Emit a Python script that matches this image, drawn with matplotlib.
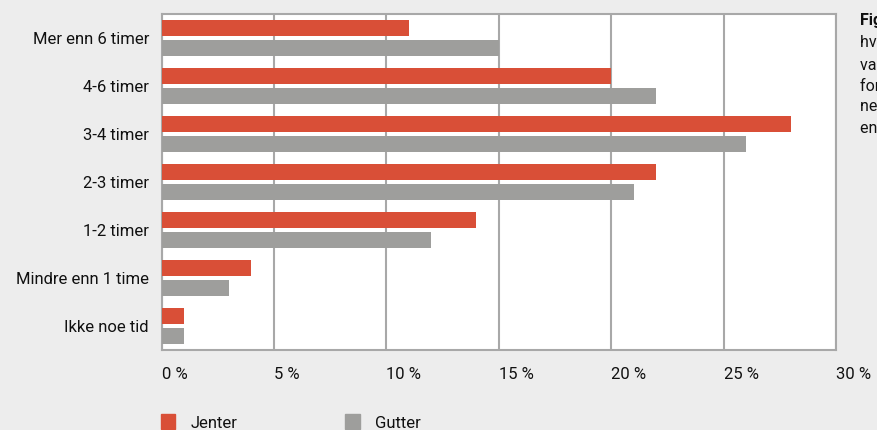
import matplotlib
import matplotlib.pyplot as plt
import numpy as np
from matplotlib.patches import Patch

matplotlib.use('Agg')

# Share of girls / boys per daily screen-time band (%)
categories = ['Mer enn 6 timer', '4-6 timer', '3-4 timer', '2-3 timer',
              '1-2 timer', 'Mindre enn 1 time', 'Ikke noe tid']
jenter = [11, 20, 28, 22, 14, 4, 1]
gutter = [15, 22, 26, 21, 12, 3, 1]
x_ticks = [0, 5, 10, 15, 20, 25, 30]
caption = ['Figur 4:', 'hvor mange timer', 'var du på nett', 'foran skjermen',
           'ne dag', 'en vanlig dag']

RED = '#d94f37'
GREY = '#9e9e9c'
BG = '#ededed'
EDGE = '#a8a8a8'
INK = '#111111'

plt.rcParams['font.family'] = ['Roboto', 'DejaVu Sans']

W, H = 878, 430
fig = plt.figure(figsize=(W / 100, H / 100), dpi=100, facecolor=BG)
ax = fig.add_axes([161.5 / W, 80 / H, 675 / W, 336 / H])
ax.set_facecolor('white')

y = np.arange(len(categories))
ax.barh(y - 0.2, jenter, height=0.33, color=RED, zorder=3)
ax.barh(y + 0.2, gutter, height=0.33, color=GREY, zorder=3)

ax.set_xlim(0, 30)
ax.set_ylim(len(categories) - 0.5, -0.5)
ax.set_yticks(y)
ax.set_yticklabels(categories, fontsize=12, color=INK)
ax.set_xticks(x_ticks)
ax.set_xticklabels([f'{t} %' for t in x_ticks], fontsize=12,
                   color=INK, ha='left')
ax.tick_params(axis='y', length=0, pad=9)
ax.tick_params(axis='x', length=0, pad=12)

ax.grid(axis='x', color=EDGE, linewidth=1.5, zorder=1)
for side in ax.spines.values():
    side.set_color(EDGE)
    side.set_linewidth(1.5)

fig.legend(handles=[Patch(color=RED, label='Jenter'),
                    Patch(color=GREY, label='Gutter')],
           loc='center left', bbox_to_anchor=(161 / W, 7.5 / H), ncol=2,
           frameon=False, fontsize=12, handlelength=0.85, handleheight=1.0,
           handletextpad=0.9, columnspacing=6.5, labelcolor=INK,
           borderpad=0, borderaxespad=0)

fig.text(860 / W, 1 - 21 / H, caption[0], fontsize=11.5, fontweight='bold',
         color=INK, va='center')
for i, line in enumerate(caption[1:]):
    fig.text(860 / W, 1 - (43 + i * 21.3) / H, line, fontsize=11.5,
             color=INK, va='center')

fig.savefig('out.png', dpi=100, facecolor=BG)
